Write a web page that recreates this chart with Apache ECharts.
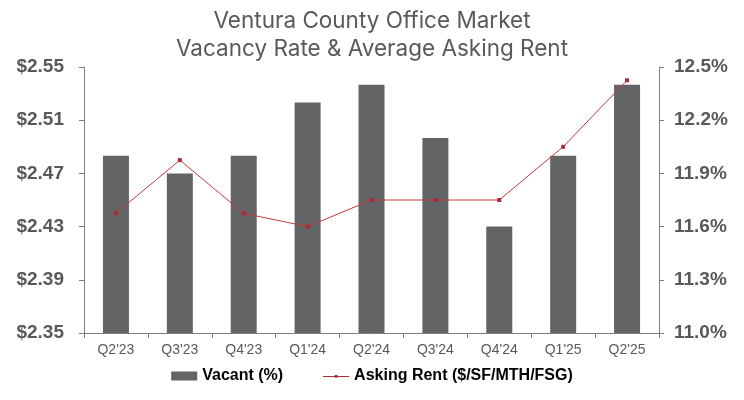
<!DOCTYPE html>
<html><head><meta charset="utf-8">
<script src="https://cdn.jsdelivr.net/npm/echarts@6/dist/echarts.min.js"></script>
<style>html,body{margin:0;padding:0;background:#fff}#c{width:744px;height:400px}</style>
</head><body><div id="c"></div>
<script>
const categories = ["Q2'23","Q3'23","Q4'23","Q1'24","Q2'24","Q3'24","Q4'24","Q1'25","Q2'25"];
const vacant = [12.0, 11.9, 12.0, 12.3, 12.4, 12.1, 11.6, 12.0, 12.4];
const askingRent = [2.44, 2.48, 2.44, 2.43, 2.45, 2.45, 2.45, 2.49, 2.54];
const titleLines = ["Ventura County Office Market", "Vacancy Rate & Average Asking Rent"];
const seriesNames = ["Vacant (%)", "Asking Rent ($/SF/MTH/FSG)"];

const gray = '#595959';
const axisLineStyle = {color: '#7f7f7f', width: 1};
const lineIcon = 'path://M0,0L0.01,0L0.01,0.01Z M25.99,9L26,9L26,8.99Z M0,4.4L26,4.4L26,5.4L0,5.4Z M11.6,3.4L14.4,3.4L14.4,6.2L11.6,6.2Z';
const chart = echarts.init(document.getElementById('c'), null, {renderer: 'canvas'});
chart.setOption({
  animation: false,
  title: {
    text: titleLines.join('\n'), left: 'center', top: 2,
    textStyle: {fontFamily: 'Inter', fontWeight: 'normal', fontSize: 22.5, color: gray, lineHeight: 28}
  },
  legend: {
    bottom: 11, left: 'center', itemGap: 40, itemWidth: 26, itemHeight: 9,
    textStyle: {fontFamily: 'Liberation Sans', fontWeight: 'bold', fontSize: 16, color: '#000'},
    data: [
      {name: seriesNames[0], icon: 'rect'},
      {name: seriesNames[1], icon: lineIcon}
    ]
  },
  grid: {left: 84, right: 85, top: 67, bottom: 67, containLabel: false},
  xAxis: {
    type: 'category', data: categories,
    axisLine: {lineStyle: axisLineStyle},
    axisTick: {show: true, length: 5, lineStyle: axisLineStyle},
    axisLabel: {fontFamily: 'Liberation Sans Narrow, Liberation Sans', fontSize: 14, color: gray, margin: 10}
  },
  yAxis: [
    {
      type: 'value', min: 2.35, max: 2.55, interval: 0.04, position: 'left',
      axisLine: {show: true, lineStyle: axisLineStyle},
      axisTick: {show: true, length: 5, lineStyle: axisLineStyle},
      splitLine: {show: false},
      axisLabel: {fontFamily: 'Liberation Sans', fontWeight: 'bold', fontSize: 19, color: gray, margin: 20,
        formatter: v => '$' + v.toFixed(2)}
    },
    {
      type: 'value', min: 11.0, max: 12.5, interval: 0.3, position: 'right',
      axisLine: {show: true, lineStyle: axisLineStyle},
      axisTick: {show: true, length: 5, lineStyle: axisLineStyle},
      splitLine: {show: false},
      axisLabel: {fontFamily: 'Liberation Sans', fontWeight: 'bold', fontSize: 19, color: gray, margin: 15,
        formatter: v => v.toFixed(1) + '%'}
    }
  ],
  series: [
    {
      name: seriesNames[0], type: 'bar', yAxisIndex: 1, data: vacant,
      barWidth: 26, itemStyle: {color: '#636466'}
    },
    {
      name: seriesNames[1], type: 'line', yAxisIndex: 0, data: askingRent,
      symbol: 'rect', symbolSize: 4, lineStyle: {color: '#c0393b', width: 1},
      itemStyle: {color: '#b0283a'}, z: 5
    }
  ]
});
</script></body></html>
